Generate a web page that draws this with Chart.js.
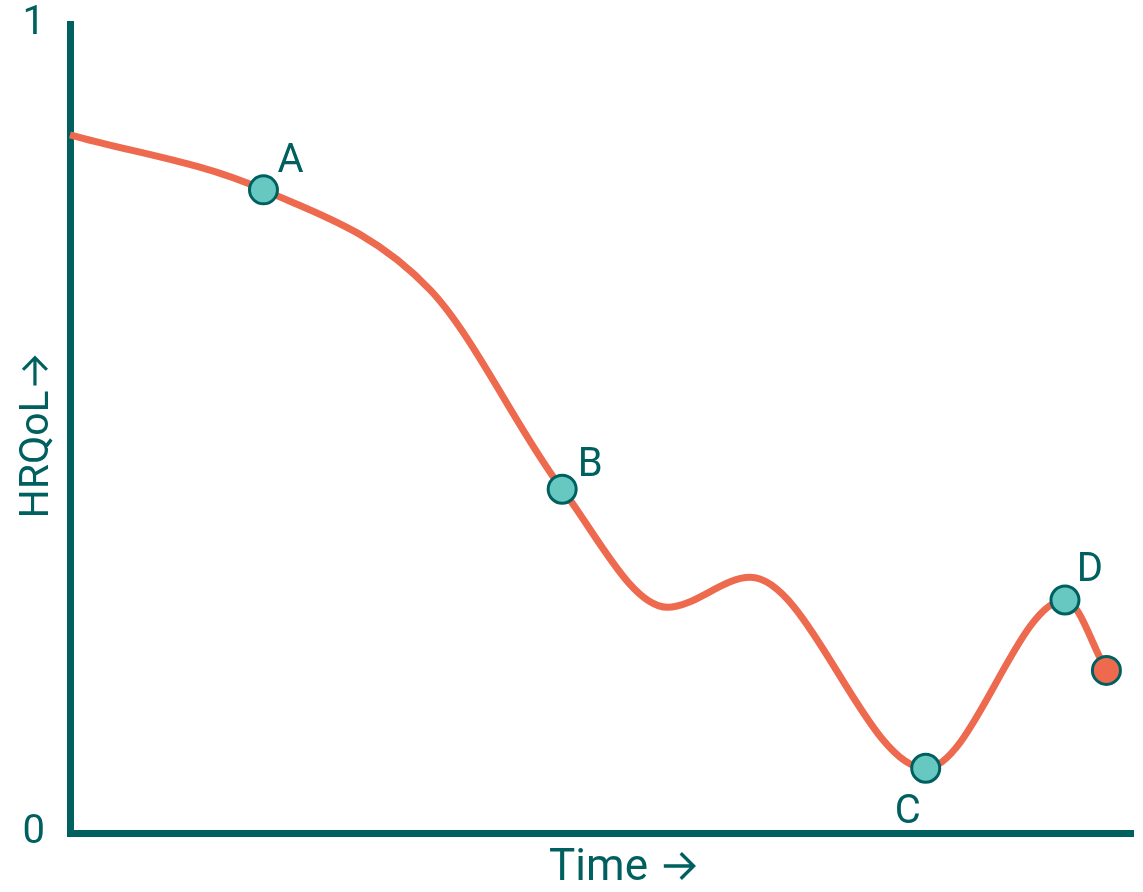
<!DOCTYPE html>
<html>
<head>
<meta charset="utf-8">
<title>HRQoL over time</title>
<script src="https://cdn.jsdelivr.net/npm/chart.js@4/dist/chart.umd.min.js"></script>
<style>
  /* arrow glyph borrowed from Inter, everything else Roboto */
  @font-face {
    font-family: 'ArrowGlyph';
    src: local('Inter'), local('Inter Regular'), local('Inter-Regular');
    unicode-range: U+2192;
  }
  html, body { margin: 0; padding: 0; background: #fff; }
  #wrap { width: 1143px; height: 892px; }
</style>
</head>
<body>
<div id="wrap"><canvas id="hrqolChart"></canvas></div>
<script>
// ---- data ----
const curveTime  = [0, 18.2, 33.9, 46.3, 56.2, 64.0, 80.5, 93.6, 97.5];
const curveHrqol = [0.863, 0.795, 0.671, 0.425, 0.279, 0.316, 0.080, 0.288, 0.201];

const markerLabels = ['A', 'B', 'C', 'D'];
const markerTime   = [18.2, 46.3, 80.5, 93.6];
const markerHrqol  = [0.795, 0.425, 0.080, 0.288];

const endTime  = [97.5];
const endHrqol = [0.201];

const yTicks = [0, 1];
const xTitle = 'Time \u2192';
const yTitle = 'HRQoL\u2192';

// ---- styling ----
const TEAL = '#00605F';
const LINE = '#EE6A4F';
const DOT  = '#66C8C1';
const FONT = 'ArrowGlyph, Roboto, "Noto Sans", sans-serif';

// where each letter sits relative to its dot
const labelOffsets = { A: [27, -28], B: [28, -23], C: [-18, 45], D: [25, -29] };

const pointLabels = {
  id: 'pointLabels',
  afterDatasetsDraw(chart) {
    const meta = chart.getDatasetMeta(0);
    const ctx = chart.ctx;
    ctx.save();
    ctx.fillStyle = TEAL;
    ctx.font = '40px ' + FONT;
    ctx.textAlign = 'center';
    ctx.textBaseline = 'middle';
    meta.data.forEach((pt, i) => {
      const lab = markerLabels[i];
      const off = labelOffsets[lab];
      ctx.fillText(lab, pt.x + off[0], pt.y + off[1]);
    });
    ctx.restore();
  }
};

// axis titles, placed by hand (the originals sit a bit off-centre)
const axisTitles = {
  id: 'axisTitles',
  afterDraw(chart) {
    const { ctx, chartArea: ca } = chart;
    ctx.save();
    ctx.fillStyle = TEAL;
    ctx.textAlign = 'center';
    ctx.textBaseline = 'middle';
    ctx.font = '44px ' + FONT;
    ctx.fillText(xTitle, (ca.left + ca.right) / 2 + 23, 869);
    ctx.translate(38, (ca.top + ca.bottom) / 2 + 7);
    ctx.rotate(-Math.PI / 2);
    ctx.font = '41px ' + FONT;
    ctx.fillText(yTitle, 0, 0);
    ctx.restore();
  }
};

function drawChart() {
  new Chart(document.getElementById('hrqolChart'), {
    type: 'scatter',
    data: {
      datasets: [
        {
          label: 'Markers',
          data: markerTime.map((t, i) => ({ x: t, y: markerHrqol[i] })),
          pointRadius: 14,
          pointBackgroundColor: DOT,
          pointBorderColor: TEAL,
          pointBorderWidth: 3,
          showLine: false,
          clip: false,
          order: 0
        },
        {
          label: 'End',
          data: endTime.map((t, i) => ({ x: t, y: endHrqol[i] })),
          pointRadius: 14,
          pointBackgroundColor: LINE,
          pointBorderColor: TEAL,
          pointBorderWidth: 3,
          showLine: false,
          clip: false,
          order: 0
        },
        {
          label: 'HRQoL',
          data: curveTime.map((t, i) => ({ x: t, y: curveHrqol[i] })),
          showLine: true,
          borderColor: LINE,
          borderWidth: 7,
          pointRadius: 0,
          cubicInterpolationMode: 'monotone',
          clip: false,
          order: 1
        }
      ]
    },
    options: {
      responsive: true,
      maintainAspectRatio: false,
      animation: false,
      layout: { autoPadding: false, padding: { top: 0, right: 10, bottom: 0, left: 0 } },
      plugins: { legend: { display: false }, tooltip: { enabled: false } },
      scales: {
        x: {
          type: 'linear',
          min: 0, max: 100,
          grid: { display: false, drawTicks: false },
          border: { display: true, color: TEAL, width: 7 },
          ticks: { display: false },
          afterFit: s => { s.height = 59; }
        },
        y: {
          min: 0, max: 1,
          z: 1,
          grid: { display: false, drawTicks: false },
          border: { display: true, color: TEAL, width: 7 },
          afterBuildTicks: s => { s.ticks = yTicks.map(v => ({ value: v })); },
          ticks: { color: TEAL, padding: 25, font: { family: FONT, size: 40 }, callback: v => String(v) },
          // fixed axis width; tick padding should not push the plot top down
          afterFit: s => { s.width = 70; s.paddingTop = 24; s.paddingBottom = 0; }
        }
      }
    },
    plugins: [pointLabels, axisTitles]
  });
}

document.fonts.load('44px ArrowGlyph', '\u2192').then(drawChart, drawChart);
</script>
</body>
</html>
